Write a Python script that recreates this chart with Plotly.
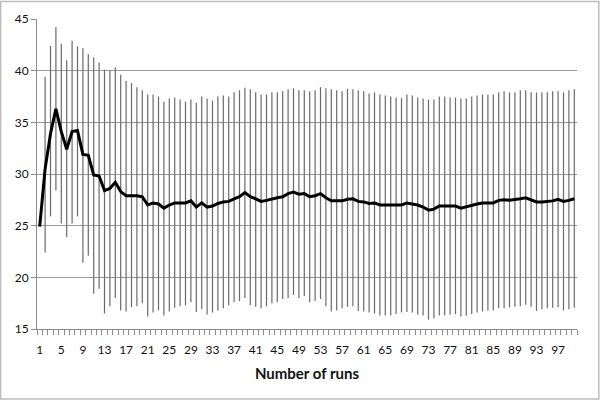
import plotly.graph_objects as go

runs = list(range(1, 101))

mean = [24.9, 30.5, 33.9, 36.3, 34.1, 32.4, 34.1, 34.2, 31.9, 31.8,
        29.9, 29.8, 28.4, 28.6, 29.2, 28.3, 27.9, 27.9, 27.9, 27.8,
        27.0, 27.2, 27.1, 26.7, 27.0, 27.2, 27.2, 27.2, 27.4, 26.8,
        27.2, 26.8, 26.9, 27.15, 27.3, 27.35, 27.6, 27.8, 28.2, 27.8,
        27.6, 27.35, 27.45, 27.6, 27.7, 27.8, 28.1, 28.25, 28.05, 28.1,
        27.8, 27.9, 28.1, 27.7, 27.4, 27.4, 27.4, 27.55, 27.6, 27.35,
        27.3, 27.15, 27.2, 27.0, 27.0, 27.0, 27.0, 27.0, 27.2, 27.1,
        27.0, 26.8, 26.5, 26.6, 26.9, 26.9, 26.9, 26.9, 26.7, 26.85,
        27.0, 27.1, 27.2, 27.2, 27.2, 27.45, 27.5, 27.45, 27.5, 27.6,
        27.7, 27.5, 27.3, 27.3, 27.35, 27.4, 27.55, 27.35, 27.45, 27.6]

upper = [24.9, 39.4, 42.4, 44.2, 42.6, 41.0, 42.9, 42.35, 42.2, 41.6,
         41.3, 40.8, 40.1, 40.0, 40.3, 39.6, 39.0, 38.8, 38.4, 38.1,
         37.7, 37.7, 37.5, 37.0, 37.3, 37.4, 37.2, 37.0, 37.2, 36.9,
         37.5, 37.3, 37.1, 37.5, 37.6, 37.5, 37.9, 38.1, 38.35, 38.2,
         37.9, 37.7, 37.7, 37.9, 37.9, 38.0, 38.2, 38.3, 38.1, 38.1,
         38.0, 38.1, 38.4, 38.3, 38.2, 38.1, 38.0, 38.25, 38.2, 38.1,
         38.0, 37.8, 37.9, 37.7, 37.6, 37.5, 37.4, 37.35, 37.7, 37.6,
         37.4, 37.3, 37.2, 37.2, 37.5, 37.5, 37.4, 37.4, 37.3, 37.3,
         37.5, 37.6, 37.7, 37.7, 37.7, 37.9, 38.0, 37.9, 37.9, 38.1,
         38.1, 37.9, 37.9, 37.9, 37.9, 38.0, 38.0, 37.9, 38.1, 38.2]

lower = [24.9, 22.4, 25.9, 28.4, 25.2, 23.9, 25.2, 25.9, 21.4, 22.1,
         18.4, 18.9, 16.5, 17.2, 18.0, 16.8, 16.7, 17.1, 17.2, 17.5,
         16.2, 16.6, 16.8, 16.3, 16.7, 17.05, 17.2, 17.3, 17.6, 16.65,
         16.9, 16.4, 16.6, 16.8, 17.0, 17.3, 17.6, 17.7, 18.0, 17.3,
         17.15, 17.0, 17.2, 17.5, 17.6, 17.9, 18.0, 18.3, 18.0, 18.2,
         17.6, 17.7, 17.9, 17.2, 16.7, 16.8, 17.0, 17.15, 17.2, 16.75,
         16.7, 16.6, 16.5, 16.3, 16.3, 16.3, 16.45, 16.6, 16.65, 16.6,
         16.4, 16.3, 15.9, 16.05, 16.3, 16.3, 16.4, 16.45, 16.2, 16.3,
         16.45, 16.6, 16.7, 16.8, 16.8, 17.0, 17.0, 17.1, 17.15, 17.2,
         17.35, 17.15, 16.75, 16.9, 17.0, 17.05, 17.1, 16.8, 16.9, 17.05]

x_tick_vals = list(range(1, 101, 4))
x_tick_text = [str(v) for v in x_tick_vals]
y_ticks = [15, 20, 25, 30, 35, 40, 45]

err_plus = [u - m for u, m in zip(upper, mean)]
err_minus = [m - l for m, l in zip(mean, lower)]

FONT = "Lato"

fig = go.Figure()
fig.add_trace(go.Scatter(
    x=runs, y=mean, mode="lines",
    line=dict(color="black", width=3),
    error_y=dict(type="data", symmetric=False, array=err_plus, arrayminus=err_minus,
                 color="#6a6a6a", thickness=1.2, width=0),
    showlegend=False,
))

fig.update_layout(
    width=600, height=401,
    margin=dict(l=37, r=23, t=19, b=72),
    paper_bgcolor="white", plot_bgcolor="white",
    font=dict(family=FONT, size=12, color="#111"),
    xaxis=dict(
        range=[0.5, 100.5], tickmode="array", tickvals=x_tick_vals, ticktext=x_tick_text,
        ticks="", showgrid=False, zeroline=False,
        showline=True, linecolor="#8c8c8c", linewidth=1,
        tickfont=dict(family=FONT, size=12, color="#111"),
        minor=dict(ticks="outside", tick0=0.5, dtick=1, ticklen=5, tickcolor="#8c8c8c", showgrid=False),
        ticklabelstandoff=10,
        title=dict(text="<b>Number of runs</b>", font=dict(family=FONT, size=15, color="#111"), standoff=12),
    ),
    yaxis=dict(
        range=[15, 45], tickmode="array", tickvals=y_ticks,
        ticks="outside", ticklen=5, tickcolor="#8c8c8c",
        showgrid=True, gridcolor="#9a9a9a", gridwidth=1, zeroline=False,
        showline=True, linecolor="#8c8c8c", linewidth=1,
        tickfont=dict(family=FONT, size=12, color="#111"),
    ),
)

fig.add_shape(type="rect", xref="paper", yref="paper",
              x0=-0.0673, x1=1.0404, y0=-0.2258, y1=1.0565,
              line=dict(color="#bdbdbd", width=1.5), fillcolor="rgba(0,0,0,0)", layer="below")

fig.write_html("out.html")
